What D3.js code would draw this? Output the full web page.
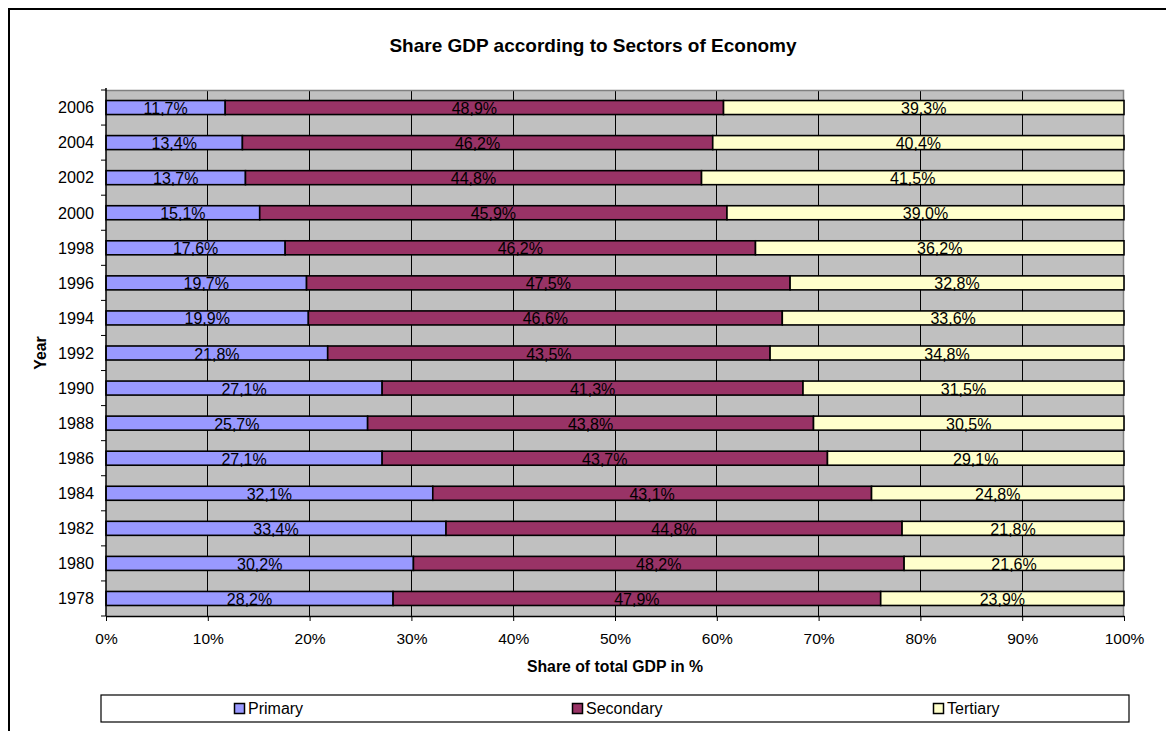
<!DOCTYPE html>
<html>
<head>
<meta charset="utf-8">
<script src="https://cdn.jsdelivr.net/npm/d3@7"></script>
<style>
  html, body { margin: 0; padding: 0; background: #fff; }
  svg { display: block; font-family: "Liberation Sans", Arial, sans-serif; }
</style>
</head>
<body>
<svg id="chart" width="1166" height="731"></svg>
<script>
// Years, top to bottom
const years = ["2006","2004","2002","2000","1998","1996","1994","1992","1990","1988","1986","1984","1982","1980","1978"];
// Share of GDP per sector, in %
const primary   = [11.7, 13.4, 13.7, 15.1, 17.6, 19.7, 19.9, 21.8, 27.1, 25.7, 27.1, 32.1, 33.4, 30.2, 28.2];
const secondary = [48.9, 46.2, 44.8, 45.9, 46.2, 47.5, 46.6, 43.5, 41.3, 43.8, 43.7, 43.1, 44.8, 48.2, 47.9];
const tertiary  = [39.3, 40.4, 41.5, 39.0, 36.2, 32.8, 33.6, 34.8, 31.5, 30.5, 29.1, 24.8, 21.8, 21.6, 23.9];
const seriesNames = ["Primary", "Secondary", "Tertiary"];
const xTicks = [0, 0.1, 0.2, 0.3, 0.4, 0.5, 0.6, 0.7, 0.8, 0.9, 1.0];

const colors = ["#9999FF", "#993366", "#FFFFCC"];
const FONT = "'Liberation Sans', Arial, sans-serif";

const svg = d3.select("#chart");
const plot = { left: 106, right: 1124, top: 90, bottom: 616 };

// Outer chart frame (extends past the visible page)
svg.append("rect")
  .attr("x", 9).attr("y", 9).attr("width", 1300).attr("height", 900)
  .attr("fill", "#fff").attr("stroke", "#000").attr("stroke-width", 2);

// Rows of the 100% stacked table
const rows = years.map((y, i) => ({ year: y, Primary: primary[i], Secondary: secondary[i], Tertiary: tertiary[i] }));
const stacked = d3.stack().keys(seriesNames).offset(d3.stackOffsetExpand)(rows);

const x = d3.scaleLinear().domain([0, 1]).range([plot.left, plot.right]);
const y = d3.scaleBand().domain(years).range([plot.top, plot.bottom]).paddingInner(0.6).paddingOuter(0.3);
const yBand = d3.scaleBand().domain(years).range([plot.top, plot.bottom]);

// Plot background
svg.append("rect")
  .attr("x", plot.left).attr("y", plot.top)
  .attr("width", plot.right - plot.left).attr("height", plot.bottom - plot.top)
  .attr("fill", "#C0C0C0");

// Vertical gridlines
svg.append("g").selectAll("line").data(xTicks.slice(1, -1)).join("line")
  .attr("x1", d => x(d)).attr("x2", d => x(d))
  .attr("y1", plot.top).attr("y2", plot.bottom)
  .attr("stroke", "#000").attr("stroke-width", 1).attr("shape-rendering", "crispEdges");

// Plot frame: top and right edges
svg.append("path")
  .attr("d", `M${plot.left},${plot.top + 0.5}H${plot.right - 0.5}V${plot.bottom}`)
  .attr("fill", "none").attr("stroke", "#808080").attr("stroke-width", 1.5);

// Bars
const layers = svg.append("g").selectAll("g").data(stacked).join("g")
  .attr("fill", (d, i) => colors[i]);
layers.selectAll("rect").data(d => d).join("rect")
  .attr("x", d => x(d[0]))
  .attr("y", d => y(d.data.year))
  .attr("width", d => x(d[1]) - x(d[0]))
  .attr("height", y.bandwidth())
  .attr("stroke", "#000").attr("stroke-width", 1.6);

// Value labels
const fmt = v => v.toFixed(1).replace(".", ",") + "%";
stacked.forEach((layer, li) => {
  svg.append("g").selectAll("text").data(layer).join("text")
    .attr("x", d => (x(d[0]) + x(d[1])) / 2)
    .attr("y", d => y(d.data.year) + y.bandwidth() - 0.5)
    .attr("text-anchor", "middle")
    .attr("font-size", 16)
    .attr("fill", "#000")
    .text(d => fmt(d.data[seriesNames[li]]));
});

// X axis
const xAxis = svg.append("g").attr("transform", `translate(0,${plot.bottom})`)
  .call(d3.axisBottom(x).tickValues(xTicks).tickFormat(d3.format(".0%")).tickSize(5).tickSizeOuter(0));
xAxis.select(".domain").attr("stroke", "#000").attr("stroke-width", 1.5);
xAxis.selectAll(".tick line").attr("stroke", "#000");
xAxis.selectAll("text").attr("font-size", 15.5).attr("font-family", FONT)
  .attr("fill", "#000").attr("dy", "1.05em").attr("y", 12);

// Y axis: labels at band centres, ticks at band boundaries
const yAxisG = svg.append("g");
yAxisG.append("line")
  .attr("x1", plot.left).attr("x2", plot.left)
  .attr("y1", plot.top - 2).attr("y2", plot.bottom)
  .attr("stroke", "#000").attr("stroke-width", 1.5);
const boundaries = years.map(d => yBand(d)).concat([plot.bottom]);
yAxisG.selectAll("line.tick").data(boundaries).join("line")
  .attr("class", "tick")
  .attr("x1", plot.left - 5).attr("x2", plot.left)
  .attr("y1", d => d).attr("y2", d => d)
  .attr("stroke", "#000").attr("stroke-width", 1);
yAxisG.selectAll("text").data(years).join("text")
  .attr("x", plot.left - 12)
  .attr("y", d => yBand(d) + yBand.bandwidth() / 2)
  .attr("dy", "0.36em")
  .attr("text-anchor", "end")
  .attr("font-size", 16.2)
  .text(d => d);

// Titles
svg.append("text")
  .attr("x", 593).attr("y", 52)
  .attr("text-anchor", "middle")
  .attr("font-size", 19).attr("font-weight", "bold")
  .text("Share GDP according to Sectors of Economy");

svg.append("text")
  .attr("x", (plot.left + plot.right) / 2).attr("y", 672)
  .attr("text-anchor", "middle")
  .attr("font-size", 15.8).attr("font-weight", "bold")
  .text("Share of total GDP in %");

svg.append("text")
  .attr("transform", `translate(46,${(plot.top + plot.bottom) / 2}) rotate(-90)`)
  .attr("text-anchor", "middle")
  .attr("font-size", 15.8).attr("font-weight", "bold")
  .text("Year");

// Legend
const legend = { left: 101, right: 1129, top: 695, bottom: 722 };
svg.append("rect")
  .attr("x", legend.left).attr("y", legend.top)
  .attr("width", legend.right - legend.left).attr("height", legend.bottom - legend.top)
  .attr("fill", "#fff").attr("stroke", "#000").attr("stroke-width", 1.2);

const legendX = [234, 572, 933];
const items = svg.append("g").selectAll("g").data(seriesNames).join("g")
  .attr("transform", (d, i) => `translate(${legendX[i]},${(legend.top + legend.bottom) / 2})`);
items.append("rect")
  .attr("x", 0.5).attr("y", -5)
  .attr("width", 10).attr("height", 10)
  .attr("fill", (d, i) => colors[i])
  .attr("stroke", "#000").attr("stroke-width", 1.5);
items.append("text")
  .attr("x", 14).attr("dy", "0.36em")
  .attr("font-size", 16)
  .text(d => d);
</script>
</body>
</html>
